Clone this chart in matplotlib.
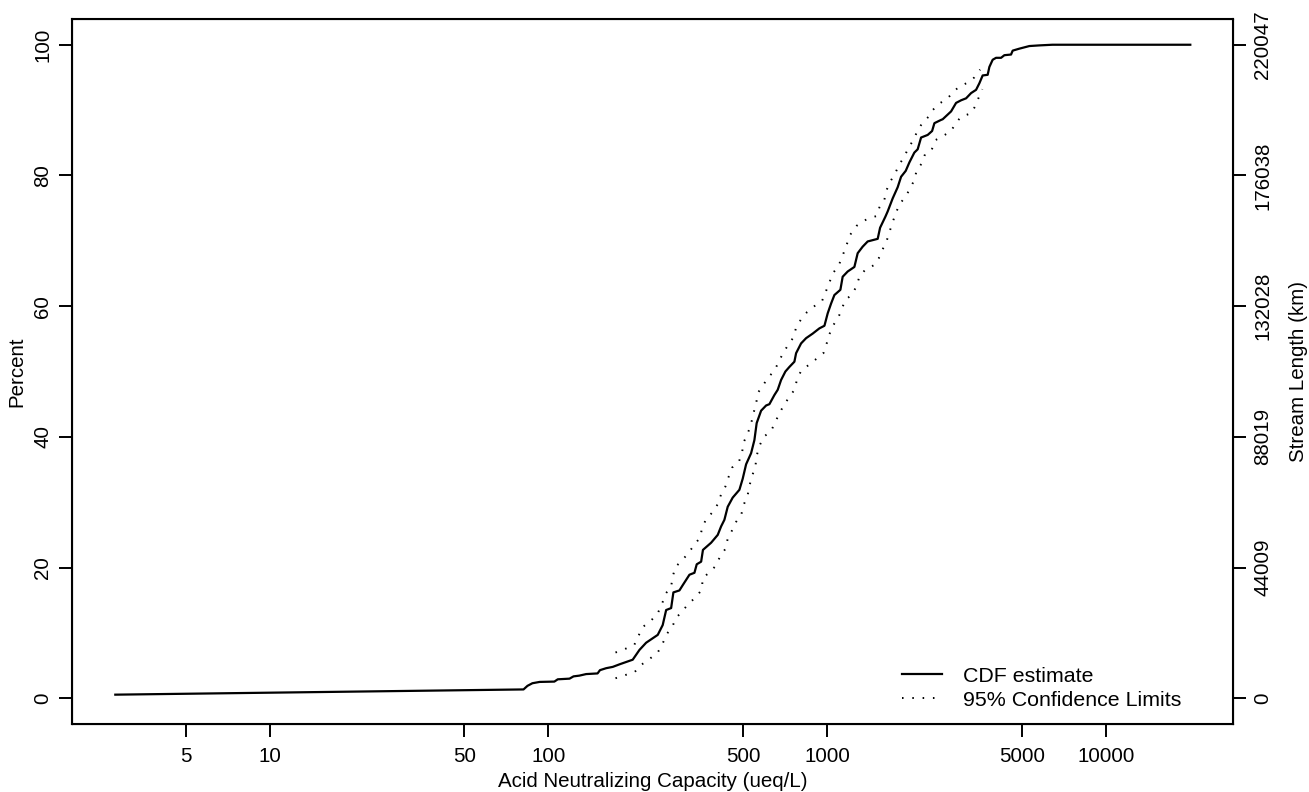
import numpy as np
import matplotlib
matplotlib.use("Agg")
import matplotlib.pyplot as plt

# CDF estimate (ANC, ueq/L) and percent of stream length
anc = [2.8, 81.4, 84.1, 87.6, 93, 105, 108, 119, 123, 129, 136.5, 150, 153, 161,
       170, 180, 200.5, 212, 224, 246.5, 256.8, 264.2, 275.3, 280.5, 294.8, 302.9,
       320.2, 333.7, 340.1, 352.7, 358, 383, 404.5, 415.9, 427.3, 439.2, 457.6,
       483.7, 497.1, 511.2, 532.7, 547.4, 557.8, 578.5, 603, 619.6, 645.7, 663.6,
       682.3, 707.1, 730.8, 761.6, 772.3, 804.8, 838.7, 885.7, 936, 975.9, 1002.5,
       1031, 1059.5, 1113.2, 1134.4, 1182.2, 1249.6, 1284, 1337.9, 1394.6, 1514.7,
       1545, 1614.3, 1645, 1714.6, 1786.5, 1837.3, 1909, 1967.9, 2050, 2107, 2167,
       2288.6, 2373.5, 2419, 2556, 2590.5, 2776, 2893, 3015, 3142, 3274, 3412, 3506,
       3603, 3755, 3808, 3913, 4024, 4194, 4310, 4554, 4616, 4877, 5297, 5754, 6406,
       20000]
cdf_pct = [0.55, 1.35, 1.9, 2.3, 2.5, 2.55, 2.9, 3.0, 3.35, 3.46, 3.7, 3.8, 4.3, 4.6,
           4.8, 5.2, 5.9, 7.4, 8.5, 9.7, 11.2, 13.5, 13.8, 16.2, 16.5, 17.3,
           18.9, 19.2, 20.5, 20.9, 22.7, 23.8, 25.0, 26.3, 27.3, 29.3, 30.7,
           31.9, 33.6, 35.8, 37.5, 39.5, 42.1, 44.0, 44.8, 45.0, 46.4, 47.2,
           48.7, 50.0, 50.7, 51.5, 52.8, 54.3, 55.1, 55.8, 56.6, 57.0, 58.9,
           60.4, 61.7, 62.5, 64.5, 65.3, 66.0, 68.1, 69.1, 69.9, 70.3,
           72.0, 73.7, 74.5, 76.5, 78.2, 79.8, 80.7, 82.0, 83.5, 84.0, 85.8,
           86.2, 86.8, 88.0, 88.5, 88.6, 89.8, 91.1, 91.5, 91.8, 92.6, 93.1, 94.1,
           95.3, 95.4, 96.6, 97.7, 98.0, 98.0, 98.4, 98.5, 99.1, 99.4, 99.8, 99.9, 100,
           100]

# 95% confidence limits
upper_anc = [173.9, 187.3, 203.3, 210, 217.8, 233.4, 246.5, 255.5, 264.2, 275.3, 278.9,
             285.3, 301.5, 318.4, 333.7, 349.8, 355.6, 367.5, 388.1, 404.5, 415.9,
             430.9, 442.7, 455.4, 480.9, 494.6, 500, 518, 532.7, 543, 555.1, 562.6,
             586.3, 613.3, 645.7, 669, 695.5, 726.6, 755.2, 772.3, 804.8, 845.7,
             898.3, 957.1, 1016.7, 1044.7, 1097.7, 1125.3, 1157.2, 1206, 1273.5,
             1383.4, 1502, 1536, 1600.9, 1631.5, 1677.9, 1752.8, 1812, 1888, 1956,
             2033, 2107, 2196, 2307.5, 2385, 2520, 2700, 2813, 2972, 3184, 3364, 3527]
upper_pct = [7.0, 7.5, 8.2, 9.5, 10.9, 11.9, 13.0, 14.5, 16.1, 17.1, 18.6,
             20.1, 21.1, 22.3, 23.5, 24.6, 26.1, 27.4, 28.5, 29.7, 31.2,
             32.4, 33.9, 35.3, 36.1, 37.6, 39.1, 40.5, 42.0, 43.6, 45.0, 46.7,
             47.8, 49.1, 50.1, 51.5, 52.9, 54.2, 55.2, 56.7, 58.0, 59.1,
             60.0, 60.8, 63.6, 65.0, 66.2, 67.4, 68.7, 70.9, 72.3,
             73.3, 73.8, 75.1, 76.3, 77.8, 79.0, 80.4, 81.7, 82.9, 84.3,
             85.4, 86.9, 88.1, 89.0, 90.0, 91.0, 91.8, 92.7, 93.6, 94.2, 95.0, 96.2]
lower_anc = [173.9, 188.8, 203.3, 214.9, 230.1, 246.5, 256.8, 266.3, 277.6, 286.9, 301.5,
             318.4, 338.4, 355.6, 356.5, 375.5, 396.9, 412.6, 429.9, 439.2, 455.4, 470.8,
             490.6, 501.2, 518, 525.3, 537.2, 552, 557.8, 570.5, 591, 628.4, 651, 673,
             701.3, 730.8, 761.6, 778.7, 804.8, 857, 911, 967.6, 994.3, 1016.7,
             1050.7, 1097.7, 1125.3, 1157.2, 1226, 1273.5, 1302, 1368.5, 1473.9, 1527,
             1578.3, 1631.5, 1714.6, 1763, 1812, 1903.7, 1979, 2050, 2090, 2185, 2245,
             2373.5, 2439, 2612, 2776, 2876, 3015, 3274, 3378, 3486, 3593]
lower_pct = [3.06, 3.56, 3.97, 5.1, 6.0, 7.0, 8.4, 9.9, 10.9, 12.3, 13.3,
             14.5, 15.5, 16.7, 18.3, 19.2, 20.2, 21.7, 22.8, 24.4, 25.7, 27.0,
             28.0, 29.6, 31.1, 32.5, 34.0, 35.5, 37.1, 38.6, 40.0, 40.9, 42.3, 43.6,
             45.0, 46.1, 47.2, 48.8, 50.1, 51.0, 51.9, 52.8, 54.3, 55.7,
             57.1, 58.4, 59.5, 60.9, 61.8, 63.1, 64.5, 65.6, 66.3, 67.3,
             68.7, 70.0, 72.9, 74.3, 75.6, 76.7, 78.0, 79.3, 80.8, 81.9, 83.4,
             84.1, 85.4, 86.1, 86.8, 87.9, 89.0, 89.5, 90.5, 91.9, 93.2]

xticks = [5, 10, 50, 100, 500, 1000, 5000, 10000]
yticks = [0, 20, 40, 60, 80, 100]
stream_km = ["0", "44009", "88019", "132028", "176038", "220047"]

plt.rcParams["font.family"] = ["Liberation Sans", "DejaVu Sans"]
FS = 14.8

fig = plt.figure(figsize=(13.09, 7.92), dpi=100)
ax = fig.add_axes([72.3 / 1309, 1 - 724.4 / 792, 1161 / 1309, 705.8 / 792])

ax.plot(anc, cdf_pct, color="black", lw=1.6, label="CDF estimate")
ax.plot(upper_anc, upper_pct, color="black", lw=1.4, linestyle=(0, (0.8, 4.5)),
        label="95% Confidence Limits")
ax.plot(lower_anc, lower_pct, color="black", lw=1.4, linestyle=(0, (0.8, 4.5)))

ax.set_xscale("log")
# R style 4% padding of the data range
lx = np.log10([min(anc), max(anc)])
pad = 0.04 * (lx[1] - lx[0])
ax.set_xlim(10 ** (lx[0] - pad), 10 ** (lx[1] + pad))
ax.set_ylim(-4, 104)

ax.set_xticks(xticks)
ax.set_xticklabels([str(t) for t in xticks])
ax.xaxis.set_minor_locator(matplotlib.ticker.NullLocator())
ax.set_yticks(yticks)
ax.set_yticklabels([str(t) for t in yticks], rotation=90, va="center")
ax.tick_params(axis="both", length=9.4, width=1.4, labelsize=FS, direction="out")
ax.tick_params(axis="x", pad=7)
ax.tick_params(axis="y", pad=5)
for s in ax.spines.values():
    s.set_linewidth(1.5)

ax2 = ax.twinx()
ax2.set_ylim(-4, 104)
ax2.set_yticks(yticks)
ax2.set_yticklabels(stream_km, rotation=90, va="center")
ax2.tick_params(axis="y", length=9.4, width=1.4, labelsize=FS, pad=5)

ax.set_xlabel("Acid Neutralizing Capacity (ueq/L)", fontsize=FS, labelpad=4)
ax.set_ylabel("Percent", fontsize=FS, labelpad=5)
ax2.set_ylabel("Stream Length (km)", fontsize=FS, rotation=90, labelpad=12)

ax.legend(loc="lower right", bbox_to_anchor=(0.955, 0.021), frameon=False,
          fontsize=15.4, handlelength=1.9, handletextpad=0.95, labelspacing=0.22,
          borderpad=0, borderaxespad=0)

fig.savefig("out.png", dpi=100)
